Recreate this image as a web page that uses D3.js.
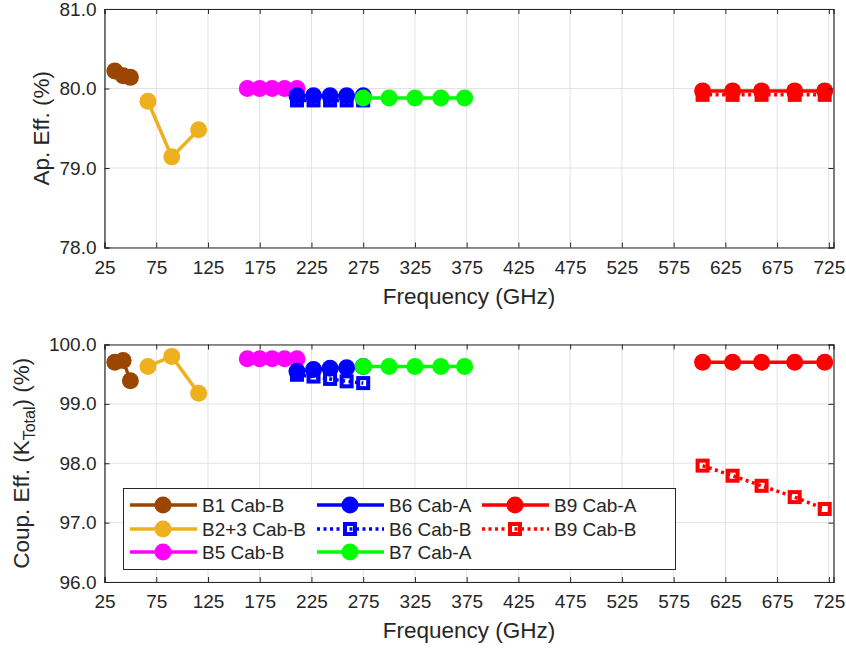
<!DOCTYPE html>
<html>
<head>
<meta charset="utf-8">
<script src="https://cdn.jsdelivr.net/npm/d3@7"></script>
<style>
  body { margin: 0; background: #fff; }
  text { font-family: "Liberation Sans", Arial, sans-serif; fill: #262626; }
</style>
</head>
<body>
<script>
// frequencies (GHz) per band
var b1Freq = [35, 43, 50];
var b23Freq = [67, 90, 116];
var b5Freq = [163, 175, 187, 199, 211];
var b6Freq = [211, 227, 243, 259, 275];
var b7Freq = [275, 300, 325, 350, 373];
var b9Freq = [603, 632, 660, 692, 721];

// aperture efficiency (%)
var b1Ap = [80.22, 80.16, 80.14];
var b23Ap = [79.84, 79.14, 79.48];
var b5Ap = [80.0, 80.0, 80.0, 80.0, 80.0];
var b6ApA = [79.91, 79.91, 79.91, 79.91, 79.91];
var b6ApB = [79.85, 79.85, 79.85, 79.85, 79.85];
var b7Ap = [79.88, 79.88, 79.88, 79.88, 79.88];
var b9ApA = [79.97, 79.97, 79.97, 79.97, 79.97];
var b9ApB = [79.92, 79.92, 79.92, 79.92, 79.92];

// coupling efficiency (%)
var b1Coup = [99.70, 99.73, 99.39];
var b23Coup = [99.63, 99.80, 99.18];
var b5Coup = [99.76, 99.76, 99.76, 99.76, 99.76];
var b6CoupA = [99.55, 99.58, 99.60, 99.61, 99.63];
var b6CoupB = [99.49, 99.46, 99.42, 99.38, 99.35];
var b7Coup = [99.63, 99.63, 99.63, 99.63, 99.63];
var b9CoupA = [99.70, 99.70, 99.70, 99.70, 99.70];
var b9CoupB = [97.96, 97.79, 97.62, 97.43, 97.23];

var xTicks = d3.range(25, 726, 50);
var apTicks = [78, 79, 80, 81];
var coupTicks = [96, 97, 98, 99, 100];

var series = [
  { name: "B1 Cab-B", color: "#9a4500", freq: b1Freq, ap: b1Ap, coup: b1Coup, dotted: false },
  { name: "B2+3 Cab-B", color: "#edb120", freq: b23Freq, ap: b23Ap, coup: b23Coup, dotted: false },
  { name: "B5 Cab-B", color: "#ff00ff", freq: b5Freq, ap: b5Ap, coup: b5Coup, dotted: false },
  { name: "B6 Cab-A", color: "#0000ff", freq: b6Freq, ap: b6ApA, coup: b6CoupA, dotted: false },
  { name: "B6 Cab-B", color: "#0000ff", freq: b6Freq, ap: b6ApB, coup: b6CoupB, dotted: true },
  { name: "B7 Cab-A", color: "#00ff00", freq: b7Freq, ap: b7Ap, coup: b7Coup, dotted: false },
  { name: "B9 Cab-A", color: "#ff0000", freq: b9Freq, ap: b9ApA, coup: b9CoupA, dotted: false },
  { name: "B9 Cab-B", color: "#ff0000", freq: b9Freq, ap: b9ApB, coup: b9CoupB, dotted: true }
];

var width = 846, height = 652;
var svg = d3.select("body").append("svg")
  .attr("width", width)
  .attr("height", height);

var x = d3.scaleLinear().domain([25, 729.5]).range([104.5, 833.5]);

function drawMarker(g, s, px, py) {
  if (s.dotted) {
    g.append("rect")
      .attr("x", px - 5).attr("y", py - 5)
      .attr("width", 10).attr("height", 10)
      .attr("fill", "none")
      .attr("stroke", s.color)
      .attr("stroke-width", 4);
  } else {
    g.append("circle")
      .attr("cx", px).attr("cy", py).attr("r", 8.5)
      .attr("fill", s.color);
  }
}

function drawPanel(key, yDomain, yRange, ticks, yTitle, isCoup) {
  var y = d3.scaleLinear().domain(yDomain).range(yRange);
  var g = svg.append("g");
  var x0 = x.range()[0], x1 = x.range()[1];
  var yb = y.range()[0], yt = y.range()[1];

  // grid
  g.append("g").selectAll("line").data(xTicks).enter().append("line")
    .attr("x1", d => x(d)).attr("x2", d => x(d))
    .attr("y1", yb).attr("y2", yt)
    .attr("stroke", "#e3e3e3").attr("stroke-width", 1);
  g.append("g").selectAll("line").data(ticks).enter().append("line")
    .attr("y1", d => y(d)).attr("y2", d => y(d))
    .attr("x1", x0).attr("x2", x1)
    .attr("stroke", "#e3e3e3").attr("stroke-width", 1);

  // series
  series.forEach(function(s) {
    var pts = s.freq.map((f, i) => [f, s[key][i]]);
    var line = d3.line().x(d => x(d[0])).y(d => y(d[1]));
    g.append("path")
      .datum(pts)
      .attr("d", line)
      .attr("fill", "none")
      .attr("stroke", s.color)
      .attr("stroke-width", 3.5)
      .attr("stroke-dasharray", s.dotted ? "3,3.5" : null);
    pts.forEach(function(p) { drawMarker(g, s, x(p[0]), y(p[1])); });
  });

  // axes (ticks inside, box on)
  var axB = g.append("g").attr("transform", "translate(0," + yb + ")")
    .call(d3.axisBottom(x).tickValues(xTicks).tickSize(-5).tickPadding(13).tickFormat(d3.format("d")));
  var axT = g.append("g").attr("transform", "translate(0," + yt + ")")
    .call(d3.axisTop(x).tickValues(xTicks).tickSize(-5).tickFormat(""));
  var axL = g.append("g").attr("transform", "translate(" + x0 + ",0)")
    .call(d3.axisLeft(y).tickValues(ticks).tickSize(-5).tickPadding(8).tickFormat(d3.format(".1f")));
  var axR = g.append("g").attr("transform", "translate(" + x1 + ",0)")
    .call(d3.axisRight(y).tickValues(ticks).tickSize(-5).tickFormat(""));
  [axB, axT, axL, axR].forEach(function(a) {
    a.selectAll("path").attr("stroke", "#262626").attr("stroke-width", 1.2);
    a.selectAll("line").attr("stroke", "#262626").attr("stroke-width", 1);
    a.selectAll("text").style("font-size", "19px").attr("fill", "#262626")
      .style("font-family", "'Liberation Sans', Arial, sans-serif");
  });

  // x title
  g.append("text")
    .attr("x", (x0 + x1) / 2)
    .attr("y", yb + 56)
    .attr("text-anchor", "middle")
    .style("font-size", "22.5px")
    .text("Frequency (GHz)");

  // y title
  var yt2 = g.append("text")
    .attr("transform", "translate(" + (isCoup ? 29 : 49) + "," + ((yb + yt) / 2) + ") rotate(-90)")
    .attr("text-anchor", "middle")
    .style("font-size", "22.5px");
  if (isCoup) {
    yt2.append("tspan").text("Coup. Eff. (K");
    yt2.append("tspan").attr("dy", 6).style("font-size", "16px").text("Total");
    yt2.append("tspan").attr("dy", -6).text(") (%)");
  } else {
    yt2.text(yTitle);
  }
  return { g: g, y: y };
}

drawPanel("ap", [78, 81], [247.5, 9], apTicks, "Ap. Eff. (%)", false);
drawPanel("coup", [96, 100], [582, 344.5], coupTicks, "", true);

// legend
var leg = svg.append("g");
leg.append("rect")
  .attr("x", 123.5).attr("y", 488.5)
  .attr("width", 552).attr("height", 81)
  .attr("fill", "#fff")
  .attr("stroke", "#262626").attr("stroke-width", 1);

var colX = [130, 317, 482];
var rowY = [505, 529, 552];
series.forEach(function(s, i) {
  var col = Math.floor(i / 3), row = i % 3;
  var lx = colX[col], ly = rowY[row];
  leg.append("line")
    .attr("x1", lx).attr("x2", lx + 67)
    .attr("y1", ly).attr("y2", ly)
    .attr("stroke", s.color).attr("stroke-width", 3.5)
    .attr("stroke-dasharray", s.dotted ? "3,3.5" : null);
  drawMarker(leg, s, lx + 33, ly);
  leg.append("text")
    .attr("x", lx + 72).attr("y", ly + 7)
    .style("font-size", "19px")
    .text(s.name);
});
</script>
</body>
</html>
